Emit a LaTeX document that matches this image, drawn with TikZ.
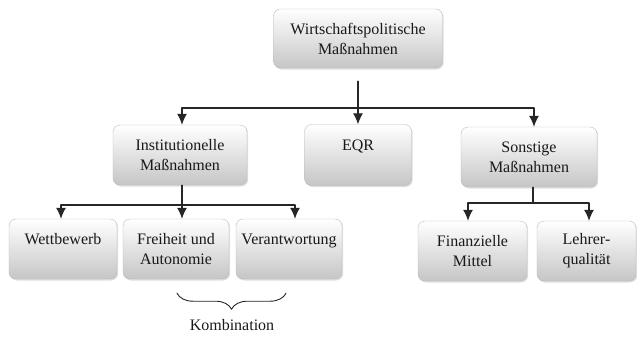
\documentclass[tikz,border=0pt]{standalone}
\usepackage{fontspec}
\setmainfont{Liberation Serif}
\newfontfamily\serifschrift{Liberation Serif}
\usetikzlibrary{arrows.meta,shadows,decorations.pathreplacing}
\tikzset{
	massn/.style={draw=gray!55,rounded corners=7pt,top color=white,bottom color=gray!45,
		drop shadow={opacity=0.25,shadow xshift=1.2pt,shadow yshift=-1.5pt},
		align=center,text=black!90,font=\serifschrift\fontsize{16}{20}\selectfont,inner sep=0pt},
	verb/.style={line width=1.1pt,draw=black!85},
}
\begin{document}
\begin{tikzpicture}[line cap=round,line join=round,x=1pt,y=-1pt,>={Latex[length=11pt,width=10pt]}]
	\useasboundingbox (0,0) rectangle (637,338);
	% Ebene 1
	\node[massn,minimum width=169pt,minimum height=59pt] (wipol) at (358,38.5) {Wirtschaftspolitische\\Maßnahmen};
	% Ebene 2
	\node[massn,minimum width=134pt,minimum height=60pt] (inst) at (180,155) {Institutionelle\\Maßnahmen};
	\node[massn,minimum width=107pt,minimum height=61pt] (eqr) at (358,155) {EQR\\~};
	\node[massn,minimum width=136pt,minimum height=60pt] (sonst) at (529,157) {Sonstige\\Maßnahmen};
	% Ebene 3
	\node[massn,minimum width=108pt,minimum height=60pt] (wett) at (63,249) {Wettbewerb\\~};
	\node[massn,minimum width=106pt,minimum height=60pt] (frei) at (176,249) {Freiheit und\\Autonomie};
	\node[massn,minimum width=106pt,minimum height=60pt] (verant) at (289,249) {Verantwortung\\~};
	\node[massn,minimum width=109pt,minimum height=60pt] (finanz) at (472.5,251) {Finanzielle\\Mittel};
	\node[massn,minimum width=99pt,minimum height=60pt] (lehrer) at (586.5,251) {Lehrer-\\qualität};
	% Verbindungen
	\coordinate (hub1) at (358,108);
	\coordinate (hub2) at (182,205);
	\coordinate (hub3) at (533,203);
	\draw[verb] ([yshift=-13pt]wipol.south) -- (hub1);
	\draw[verb,->] (hub1) -| ([xshift=2pt]inst.north);
	\draw[verb,->] (hub1) -- (eqr.north);
	\draw[verb,->] (hub1) -| ([xshift=5pt]sonst.north);
	\draw[verb] ([xshift=2pt]inst.south) -- (hub2);
	\draw[verb,->] (hub2) -| ([xshift=-2pt]wett.north);
	\draw[verb,->] (hub2) -- ([xshift=6pt]frei.north);
	\draw[verb,->] (hub2) -| ([xshift=6pt]verant.north);
	\draw[verb] ([xshift=4pt]sonst.south) -- (hub3);
	\draw[verb,->] (hub3) -| ([xshift=-4.5pt]finanz.north);
	\draw[verb,->] (hub3) -| ([xshift=2.5pt]lehrer.north);
	% Klammer
	\draw[line width=0.9pt,black!85,decorate,decoration={brace,amplitude=16pt}]
		([xshift=-3pt,yshift=-14pt]verant.south) -- ([xshift=1pt,yshift=-14pt]frei.south);
	\node[text=black!90,font=\serifschrift\fontsize{16}{20}\selectfont] (komb) at (232,325) {Kombination};
\end{tikzpicture}
\end{document}
